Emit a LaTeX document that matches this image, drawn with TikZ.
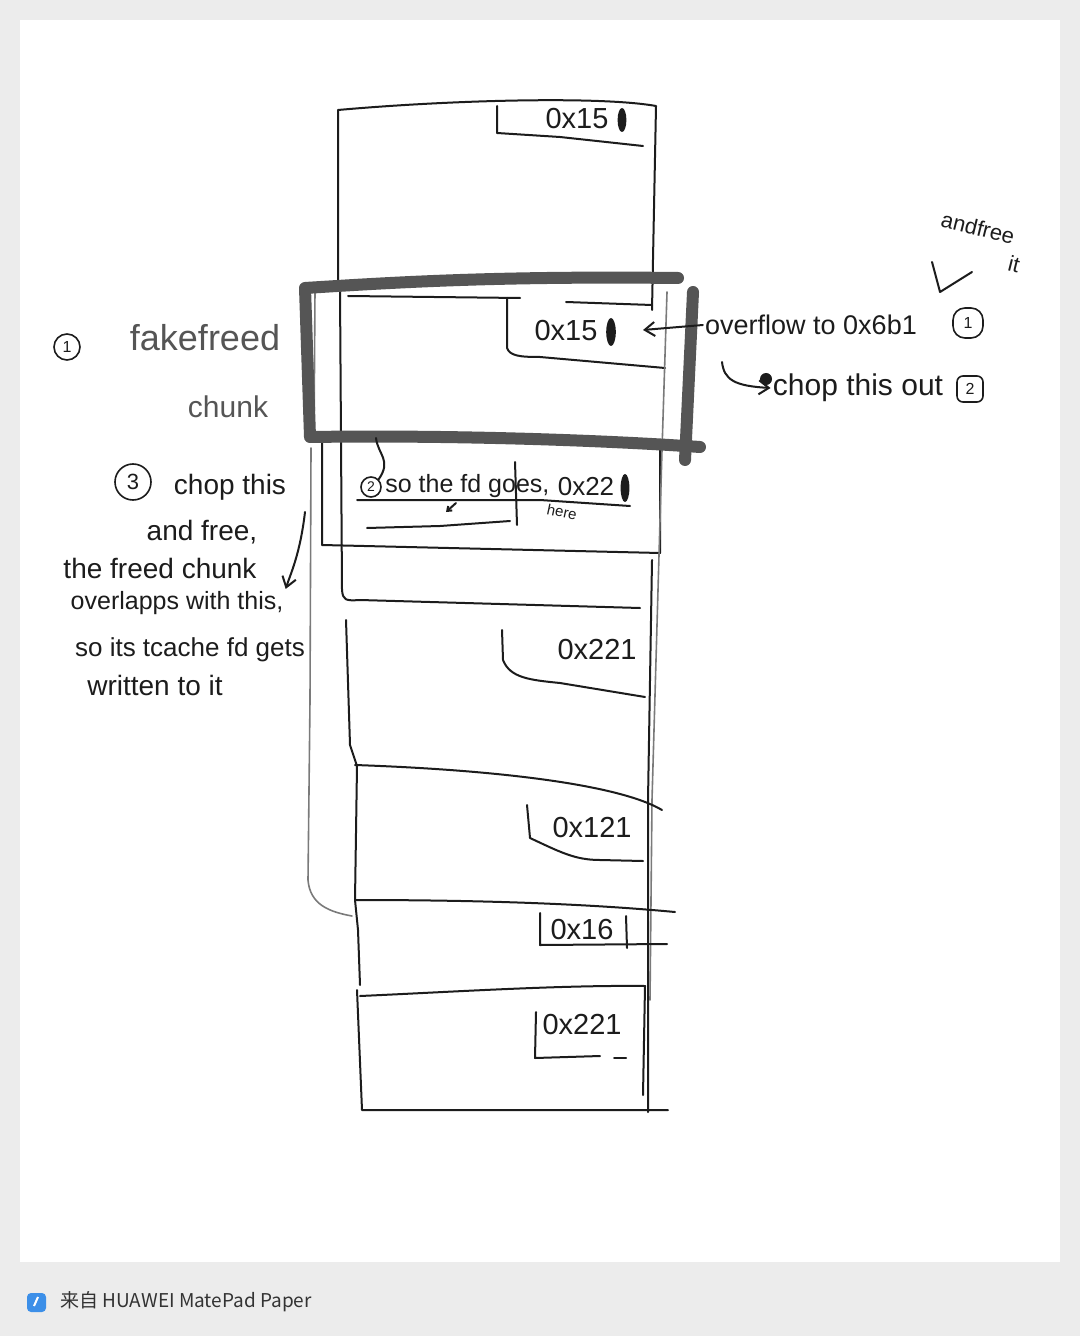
\documentclass[tikz,border=0pt]{standalone}
\usepackage{fontspec}
\setmainfont{Liberation Sans}
\newfontfamily\footfont{Noto Sans CJK SC}
\usetikzlibrary{arrows.meta, positioning}
\definecolor{pagegray}{HTML}{ECECEC}
\definecolor{penblack}{HTML}{1C1C1C}
\definecolor{markergray}{HTML}{555555}
\definecolor{pencilgray}{HTML}{7A7A7A}
\definecolor{iconblue}{HTML}{3C8FE8}
\definecolor{foottext}{HTML}{333333}

\begin{document}
\begin{tikzpicture}[x=0.5pt,y=-0.5pt,
    pen/.style={draw=penblack,line width=1pt,line cap=round,line join=round},
    pencil/.style={draw=pencilgray,line width=0.8pt,line cap=round},
    marker/.style={draw=markergray,line width=6pt,line cap=round,line join=round},
    hand/.style={text=penblack,inner sep=1pt,font=\fontsize{14}{16}\selectfont},
    grayhand/.style={hand,text=markergray},
    sizelabel/.style={hand,font=\fontsize{14.5}{16}\selectfont},
    numcircle/.style={draw=penblack,circle,line width=0.8pt,inner sep=0pt,text=penblack},
    numbox/.style={draw=penblack,rounded corners=3pt,line width=0.8pt,inner sep=0pt,text=penblack},
    fdarrow/.style={pen,-{Straight Barb[length=5pt,width=7pt]}}]

\fill[pagegray] (0,0) rectangle (1080,1336);
\fill[white] (20,20) rectangle (1060,1262);

% chunk column
\draw[pen] (338,282) -- (338,110) .. controls (450,100) and (600,96) .. (656,106) -- (652,310);
\draw[pen] (497,106) -- (497,133) -- (560,137) -- (643,146);
\node[sizelabel] (topsize) at (577,119) {0x15};
\fill[penblack] (622,120) ellipse [x radius=2.2pt, y radius=6pt];

\draw[pen] (348,296) -- (520,298);
\draw[pen] (566,302) -- (652,305);
\draw[pen] (507,298) -- (507,348) .. controls (510,356) and (520,357) .. (540,357) -- (665,368);
\node[sizelabel] (fdsize) at (566,331) {0x15};
\fill[penblack] (611,332) ellipse [x radius=2.4pt, y radius=7pt];
\coordinate (fdtip) at (643,330);

\draw[pen] (340,290) -- (342,590) .. controls (343,600) and (345,601) .. (360,600) -- (640,608);
\draw[pencil] (315,290) -- (314,440);
\draw[pen] (322,440) -- (322,545) -- (660,553) -- (660,440);
\draw[pencil] (667,292) -- (662,450) -- (652,800) -- (650,1000);
\draw[pen] (652,560) -- (648,800) -- (648,1112);

\node[numcircle,minimum size=10pt,font=\fontsize{7}{8}\selectfont] (circtwo) at (371,487) {2};
\node[hand,font=\fontsize{12.5}{14}\selectfont,anchor=west] (fdgoes) at (383,486) {so the fd goes,};
\node[hand,font=\fontsize{7.5}{8}\selectfont,rotate=-12] (here) at (562,512) {here};
\node[sizelabel,font=\fontsize{13}{15}\selectfont] (chunkthreesize) at (586,487) {0x22};
\fill[penblack] (625,488) ellipse [x radius=2.2pt, y radius=7pt];
\draw[pen] (357,500) -- (540,500) -- (630,506);
\draw[pen] (515,462) -- (517,525);
\draw[pen] (367,528) -- (440,526) -- (510,521);
\draw[pen,-{Straight Barb[length=2pt,width=3pt]}] (456,503) -- (446,512);

\draw[pencil] (311,448) -- (310,700) -- (308,880) .. controls (310,905) and (330,912) .. (352,916);
\draw[pen] (346,620) -- (350,745) -- (357,766) -- (355,900) -- (358,930) -- (360,985);
\draw[pen] (357,990) -- (362,1110) -- (668,1110);

\draw[pen] (502,630) -- (503,660) .. controls (510,678) and (530,680) .. (560,683) -- (645,697);
\node[sizelabel] (chunkfoursize) at (597,650) {0x221};

\draw[pen] (355,765) .. controls (500,770) and (620,785) .. (662,810);
\draw[pen] (527,805) -- (530,838) .. controls (560,852) and (575,860) .. (600,860) -- (643,861);
\node[sizelabel] (chunkfivesize) at (592,828) {0x121};

\draw[pen] (355,900) .. controls (500,900) and (600,905) .. (675,912);
\draw[pen] (540,913) -- (540,945) -- (667,944);
\draw[pen] (626,916) -- (627,948);
\node[sizelabel] (chunksixsize) at (582,930) {0x16};

\draw[pen] (360,996) .. controls (450,992) and (560,985) .. (645,986) -- (643,1095);
\draw[pen] (536,1012) -- (535,1058) -- (600,1056);
\draw[pen] (614,1058) -- (626,1058);
\node[sizelabel] (chunksevensize) at (582,1025) {0x221};

% fake freed chunk
\draw[marker] (678,278) .. controls (500,276) and (400,282) .. (305,288) -- (310,437) .. controls (450,435) and (600,440) .. (700,447);
\draw[marker] (693,292) -- (685,460);
\draw[pen] (376,438) .. controls (378,455) and (392,460) .. (circtwo.north east);

% notes on the left
\node[numcircle,minimum size=13pt,font=\fontsize{8}{9}\selectfont] (stepone) at (67,347) {1};
\node[grayhand,font=\fontsize{18}{20}\selectfont] (fakefreed) at (205,338) {fakefreed};
\node[grayhand,font=\fontsize{15}{17}\selectfont] (fakechunk) at (228,407) {chunk};
\node[numcircle,minimum size=18pt,font=\fontsize{11}{12}\selectfont] (stepthree) at (133,482) {3};
\node[hand] (chopthis) at (230,487) {chop this};
\node[hand] (andfree) at (202,532) {and free,};
\node[hand] (freedchunk) at (160,568) {the freed chunk};
\node[hand,font=\fontsize{12.5}{14}\selectfont] (overlap) at (177,603) {overlapps with this,};
\node[hand,font=\fontsize{13}{15}\selectfont] (tcachefd) at (190,650) {so its tcache fd gets};
\node[hand] (written) at (155,685) {written to it};
\coordinate (bendtop) at (305,512);
\draw[fdarrow] (bendtop) .. controls (300,555) and (290,575) .. (overlap.north east);

% notes on the right
\node[hand,font=\fontsize{13.5}{15}\selectfont] (overflow) at (811,325) {overflow to 0x6b1};
\node[numbox,minimum size=15pt,rounded corners=6pt,font=\fontsize{8}{9}\selectfont] (rightone) at (968,323) {1};
\draw[fdarrow] (overflow.west) -- (fdtip);
\node[hand,font=\fontsize{15}{17}\selectfont] (chopout) at (858,388) {chop this out};
\fill[penblack] (766,379) circle [radius=3pt];
\node[numbox,minimum size=13pt,font=\fontsize{8}{9}\selectfont] (righttwo) at (970,389) {2};
\coordinate (curlstart) at (722,362);
\draw[fdarrow] (curlstart) .. controls (724,380) and (735,386) .. (chopout.west);
\draw[pen] (932,262) -- (940,292) -- (972,272);
\node[hand,font=\fontsize{11}{12}\selectfont,rotate=-14] (andfreeit) at (978,228) {andfree};
\node[hand,font=\fontsize{11}{12}\selectfont,rotate=-14] (freeit) at (1014,264) {it};

% footer
\fill[iconblue,rounded corners=2pt] (27,1293) rectangle (46,1312);
\draw[white,line width=1pt] (34,1306) -- (38,1297);
\node[anchor=west,text=foottext,inner sep=0pt,font=\footfont\fontsize{9.5}{11}\selectfont] (footer) at (60,1302) {来自 HUAWEI MatePad Paper};
\end{tikzpicture}
\end{document}
